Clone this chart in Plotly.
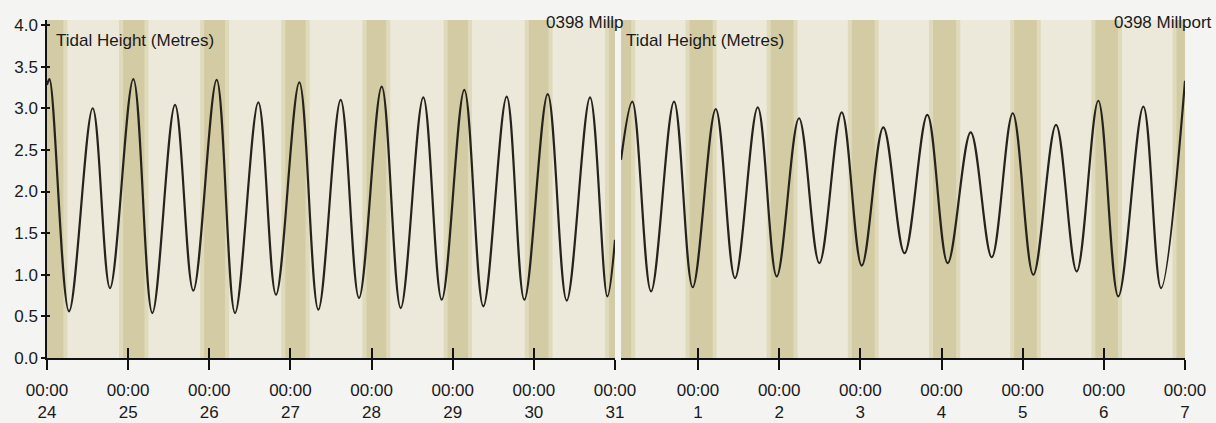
import plotly.graph_objects as go
import pandas as pd

# ---------------- data ----------------
left_times = [
    "2010-10-24 00:00", "2010-10-24 00:44", "2010-10-24 06:31", "2010-10-24 13:31", "2010-10-24 18:38",
    "2010-10-25 01:32", "2010-10-25 07:09", "2010-10-25 13:52", "2010-10-25 19:16",
    "2010-10-26 02:11", "2010-10-26 07:37", "2010-10-26 14:30", "2010-10-26 19:44",
    "2010-10-27 02:38", "2010-10-27 08:15", "2010-10-27 14:52", "2010-10-27 20:17",
    "2010-10-28 03:00", "2010-10-28 08:37", "2010-10-28 15:18", "2010-10-28 20:45",
    "2010-10-29 03:26", "2010-10-29 09:03", "2010-10-29 15:58", "2010-10-29 21:11",
    "2010-10-30 04:06", "2010-10-30 09:43", "2010-10-30 16:37", "2010-10-30 21:44",
    "2010-10-31 00:00",
]
left_heights = [
    3.28, 3.35, 0.56, 3.00, 0.84,
    3.35, 0.54, 3.04, 0.81,
    3.34, 0.54, 3.07, 0.76,
    3.31, 0.58, 3.10, 0.72,
    3.26, 0.60, 3.13, 0.70,
    3.22, 0.62, 3.14, 0.70,
    3.17, 0.69, 3.13, 0.74,
    1.42,
]

right_times = [
    "2010-10-31 01:14", "2010-10-31 04:35", "2010-10-31 10:07", "2010-10-31 16:55", "2010-10-31 22:26",
    "2010-11-01 05:15", "2010-11-01 10:57", "2010-11-01 17:40", "2010-11-01 23:17",
    "2010-11-02 05:52", "2010-11-02 11:53", "2010-11-02 18:30",
    "2010-11-03 00:25", "2010-11-03 06:48", "2010-11-03 13:04", "2010-11-03 19:49",
    "2010-11-04 01:50", "2010-11-04 08:38", "2010-11-04 14:51", "2010-11-04 21:04",
    "2010-11-05 03:09", "2010-11-05 09:52", "2010-11-05 15:59", "2010-11-05 22:22",
    "2010-11-06 04:17", "2010-11-06 11:41", "2010-11-06 16:55",
    "2010-11-07 00:00",
]
right_heights = [
    2.38, 3.08, 0.80, 3.08, 0.85,
    2.99, 0.96, 3.01, 0.98,
    2.88, 1.14, 2.95,
    1.11, 2.77, 1.26, 2.92,
    1.14, 2.71, 1.21, 2.94,
    1.00, 2.80, 1.04, 3.09,
    0.74, 3.02, 0.84,
    3.33,
]

# darker (night) shading periods
night_start = [
    "2010-10-23 22:30", "2010-10-24 22:30", "2010-10-25 22:30", "2010-10-26 22:30",
    "2010-10-27 22:30", "2010-10-28 22:30", "2010-10-29 22:30", "2010-10-30 22:15",
    "2010-10-31 21:30", "2010-11-01 21:30", "2010-11-02 21:30", "2010-11-03 21:30",
    "2010-11-04 21:30", "2010-11-05 21:30", "2010-11-06 21:30",
]
night_end = [
    "2010-10-24 04:50", "2010-10-25 04:50", "2010-10-26 04:40", "2010-10-27 04:30",
    "2010-10-28 04:20", "2010-10-29 04:30", "2010-10-30 04:20", "2010-10-31 04:15",
    "2010-11-01 04:20", "2010-11-02 04:15", "2010-11-03 04:15", "2010-11-04 04:20",
    "2010-11-05 04:10", "2010-11-06 04:10", "2010-11-07 04:00",
]

y_ticks = [0.0, 0.5, 1.0, 1.5, 2.0, 2.5, 3.0, 3.5, 4.0]
y_title = "Tidal Height (Metres)"
station_left = "0398 Millp"
station_right = "0398 Millport"

left_range = ["2010-10-24 00:00", "2010-10-31 00:00"]
right_range = ["2010-10-31 01:14", "2010-11-07 00:00"]
y_range = [0, 4.06]

# ---------------- styling ----------------
W, H = 1216, 423
FONT = "Liberation Sans, Arial, sans-serif"
TXT = "#1a1a1a"
LINE = "#25231c"
BG_LIGHT = "#ece9da"
BG_MED = "#e0dabd"
BG_DARK = "#d3cba3"
PAPER = "#f4f4f2"


def fx(p):
    return p / W


def fy(p):
    return 1 - p / H


ydom = [fy(358), fy(20)]
left_dom = [fx(47), fx(615)]
right_dom = [fx(621), fx(1185)]

fig = go.Figure()

line_style = dict(color=LINE, width=2.2, shape="spline", smoothing=1.0)
fig.add_trace(go.Scatter(x=left_times, y=left_heights, mode="lines", line=line_style,
                         xaxis="x", yaxis="y", showlegend=False, hoverinfo="skip"))
fig.add_trace(go.Scatter(x=right_times, y=right_heights, mode="lines", line=line_style,
                         xaxis="x2", yaxis="y2", showlegend=False, hoverinfo="skip"))
# empty helper traces so overlay axes (inner half of crossing ticks) get drawn
for xa, ya in [("x3", "y"), ("x4", "y2"), ("x", "y3")]:
    fig.add_trace(go.Scatter(x=[], y=[], xaxis=xa, yaxis=ya, showlegend=False, hoverinfo="skip"))

# shading bands
shapes = []
pad = pd.Timedelta(hours=1.2)
for s, e in zip(night_start, night_end):
    s_t, e_t = pd.Timestamp(s), pd.Timestamp(e)
    for xr, yr in [("x", "y"), ("x2", "y2")]:
        shapes.append(dict(type="rect", xref=xr, yref=yr, layer="below",
                           x0=(s_t - pad).isoformat(), x1=(e_t + pad).isoformat(),
                           y0=-1, y1=6, fillcolor=BG_MED, line=dict(width=0)))
        shapes.append(dict(type="rect", xref=xr, yref=yr, layer="below",
                           x0=s_t.isoformat(), x1=e_t.isoformat(),
                           y0=-1, y1=6, fillcolor=BG_DARK, line=dict(width=0)))

tickfont = dict(family=FONT, size=17, color=TXT)
xcommon = dict(type="date", tickformat="%H:%M<br>%-d", dtick=86400000, tick0="2010-10-24",
               showgrid=False, zeroline=False, tickfont=tickfont, automargin=False)

fig.update_layout(
    width=W, height=H,
    margin=dict(l=0, r=0, t=0, b=0, pad=0, autoexpand=False),
    paper_bgcolor=PAPER, plot_bgcolor=BG_LIGHT,
    font=dict(family=FONT, size=17, color=TXT),
    showlegend=False,
    shapes=shapes,
    xaxis=dict(xcommon, domain=left_dom, range=left_range, anchor="y",
               showline=True, linecolor="#111111", linewidth=1.5,
               ticks="outside", ticklen=10, tickwidth=1.5, tickcolor="#111111",
               ticklabelstandoff=6),
    xaxis2=dict(xcommon, domain=right_dom, range=right_range, anchor="y2",
                showline=True, linecolor="#111111", linewidth=1.5,
                ticks="outside", ticklen=10, tickwidth=1.5, tickcolor="#111111",
                ticklabelstandoff=6),
    xaxis3=dict(xcommon, domain=left_dom, range=left_range, anchor="y", overlaying="x",
                showline=False, showticklabels=False,
                ticks="inside", ticklen=10, tickwidth=1.5, tickcolor="#111111"),
    xaxis4=dict(xcommon, domain=right_dom, range=right_range, anchor="y2", overlaying="x2",
                showline=False, showticklabels=False,
                ticks="inside", ticklen=10, tickwidth=1.5, tickcolor="#111111"),
    yaxis=dict(domain=ydom, range=y_range, anchor="x", automargin=False,
               tickvals=y_ticks, tickformat=".1f", tickfont=tickfont,
               showline=True, linecolor="#111111", linewidth=1.5,
               ticks="outside", ticklen=4, tickwidth=1.5, tickcolor="#111111",
               showgrid=False, zeroline=False),
    yaxis2=dict(domain=ydom, range=y_range, anchor="x2", visible=False, automargin=False,
                showgrid=False, zeroline=False),
    yaxis3=dict(domain=ydom, range=y_range, anchor="x", overlaying="y", side="left",
                automargin=False,
                tickvals=y_ticks, showticklabels=False, showline=False,
                ticks="inside", ticklen=3, tickwidth=1.5, tickcolor="#111111",
                showgrid=False, zeroline=False),
)

ann_font = dict(family=FONT, size=17, color=TXT)
fig.add_annotation(text=y_title, xref="paper", yref="paper", x=fx(54), y=fy(29),
                   xanchor="left", yanchor="top", showarrow=False, font=ann_font)
fig.add_annotation(text=y_title, xref="paper", yref="paper", x=fx(624), y=fy(29),
                   xanchor="left", yanchor="top", showarrow=False, font=ann_font)
fig.add_annotation(text=station_left, xref="paper", yref="paper", x=fx(544), y=fy(11),
                   xanchor="left", yanchor="top", showarrow=False, font=ann_font)
fig.add_annotation(text=station_right, xref="paper", yref="paper", x=fx(1214), y=fy(11),
                   xanchor="right", yanchor="top", showarrow=False, font=ann_font)

fig.write_html("out.html")
